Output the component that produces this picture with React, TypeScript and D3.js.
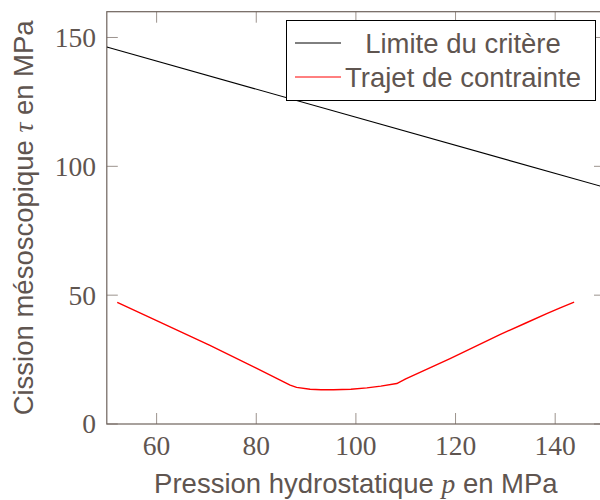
import React from "react";
import * as d3 from "d3";

const xTicks = [60, 80, 100, 120, 140];
const yTicks = [0, 50, 100, 150];
const xDomain = [50, 150];
const yDomain = [0, 160];

// Limite du critère
const critP = [50, 150];
const critTau = [146.3, 91.8];

// Trajet de contrainte
const pathP = [52.1, 60, 70.7, 80, 86.8, 88.1, 90.8, 93, 95.5, 99, 102.2, 105, 108.2, 110, 118.9, 128.9, 134, 138.3, 141, 143.8];
const pathTau = [47.2, 40.1, 30.5, 21.7, 15.1, 14.2, 13.5, 13.3, 13.3, 13.5, 14.0, 14.7, 15.7, 17.5, 25.4, 34.7, 39.1, 42.8, 45.1, 47.3];

const legendLabels = ["Limite du critère", "Trajet de contrainte"];
const legendColors = ["#000000", "#ff0000"];

const W = 600;
const H = 500;
const m = { left: 106.8, right: 605, top: 11.7, bottom: 424 };
const textColor = "#5f5550";
const axisColor = "#6e635c";
const tickColor = "#9c938d";
const FS = 27.5;

export default function App() {
  const x = d3.scaleLinear().domain(xDomain).range([m.left, m.right]);
  const y = d3.scaleLinear().domain(yDomain).range([m.bottom, m.top]);
  const line = d3
    .line<[number, number]>()
    .x((d) => x(d[0]))
    .y((d) => y(d[1]));
  const crit: [number, number][] = critP.map((p, i) => [p, critTau[i]]);
  const traj: [number, number][] = pathP.map((p, i) => [p, pathTau[i]]);
  const tl = 11;

  const legX0 = 286.5;
  const legX1 = 595.5;
  const legY0 = 20.5;
  const legY1 = 100.5;
  const rowY = [43, 77];

  return (
    <svg
      width={W}
      height={H}
      style={{ position: "absolute", left: 0, top: 0, background: "#fff" }}
    >
      <defs>
        <clipPath id="plotclip">
          <rect x={m.left} y={m.top} width={m.right - m.left} height={m.bottom - m.top} />
        </clipPath>
      </defs>
      {/* ticks */}
      {xTicks.map((t) => (
        <g key={"xt" + t}>
          <line x1={x(t)} x2={x(t)} y1={m.bottom} y2={m.bottom - tl} stroke={tickColor} strokeWidth={1} />
          <line x1={x(t)} x2={x(t)} y1={m.top} y2={m.top + tl} stroke={tickColor} strokeWidth={1} />
          <text
            x={x(t)}
            y={455}
            textAnchor="middle"
            fontFamily="'Liberation Serif', 'DejaVu Serif', serif"
            fontSize={FS}
            fill={textColor}
          >
            {t}
          </text>
        </g>
      ))}
      {yTicks.map((t) => (
        <g key={"yt" + t}>
          <line x1={m.left} x2={m.left + tl} y1={y(t)} y2={y(t)} stroke={tickColor} strokeWidth={1} />
          <line x1={m.right} x2={m.right - tl} y1={y(t)} y2={y(t)} stroke={tickColor} strokeWidth={1} />
          <text
            x={96}
            y={y(t)}
            dy="0.34em"
            textAnchor="end"
            fontFamily="'Liberation Serif', 'DejaVu Serif', serif"
            fontSize={FS}
            fill={textColor}
          >
            {t}
          </text>
        </g>
      ))}
      {/* frame */}
      <rect
        x={m.left}
        y={m.top}
        width={m.right - m.left}
        height={m.bottom - m.top}
        fill="none"
        stroke={axisColor}
        strokeWidth={1.2}
      />
      {/* data */}
      <g clipPath="url(#plotclip)">
        <path d={line(crit) || ""} fill="none" stroke="#000" strokeWidth={1.1} />
        <path d={line(traj) || ""} fill="none" stroke="#ff0000" strokeWidth={1.4} strokeLinejoin="round" />
      </g>
      {/* legend */}
      <rect
        x={legX0}
        y={legY0}
        width={legX1 - legX0}
        height={legY1 - legY0}
        fill="#fff"
        stroke="#000"
        strokeWidth={1}
      />
      {legendLabels.map((lab, i) => (
        <g key={lab}>
          <line x1={295} x2={341} y1={rowY[i]} y2={rowY[i]} stroke={legendColors[i]} strokeWidth={1} />
          <text
            x={463}
            y={rowY[i]}
            dy="0.35em"
            textAnchor="middle"
            fontFamily="'Liberation Sans', Arial, sans-serif"
            fontSize={FS}
            fill={textColor}
          >
            {lab}
          </text>
        </g>
      ))}
      {/* axis labels */}
      <text
        x={(m.left + m.right) / 2}
        y={493}
        textAnchor="middle"
        fontFamily="'Liberation Sans', Arial, sans-serif"
        fontSize={FS}
        fill={textColor}
      >
        Pression hydrostatique{" "}
        <tspan fontFamily="'Liberation Serif', 'DejaVu Serif', serif" fontStyle="italic">
          p
        </tspan>{" "}
        en MPa
      </text>
      <text
        transform={`translate(33, ${(m.top + m.bottom) / 2}) rotate(-90)`}
        textAnchor="middle"
        fontFamily="'Liberation Sans', Arial, sans-serif"
        fontSize={FS}
        fill={textColor}
      >
        Cission mésoscopique{" "}
        <tspan fontFamily="'Liberation Serif', 'DejaVu Serif', serif" fontStyle="italic">
          τ
        </tspan>{" "}
        en MPa
      </text>
    </svg>
  );
}
